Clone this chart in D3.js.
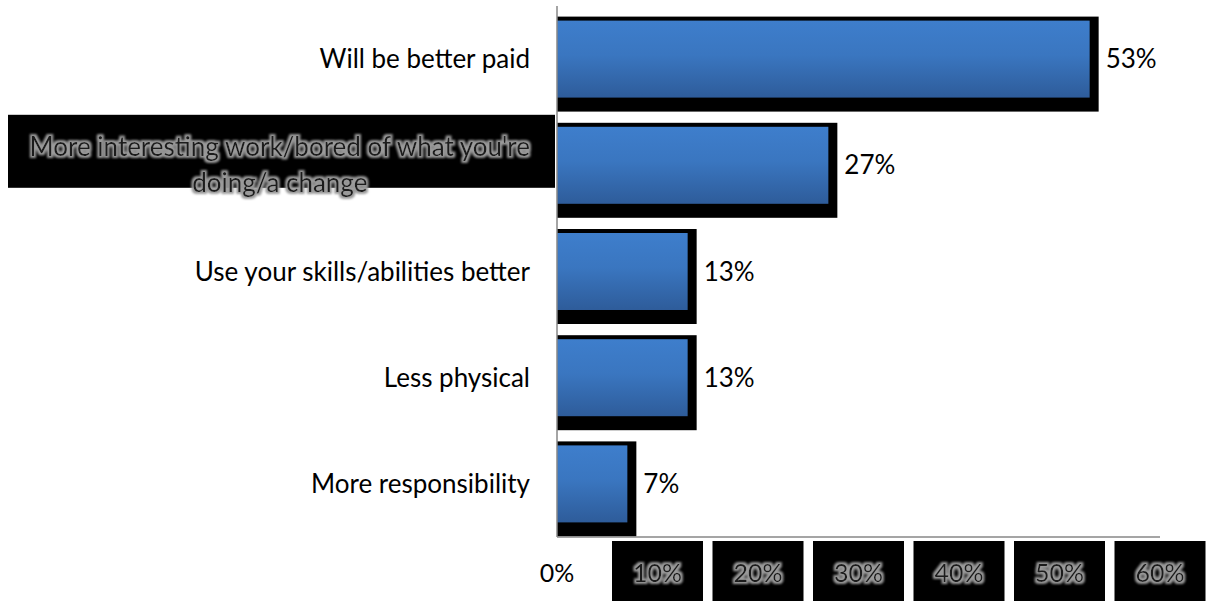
<!DOCTYPE html>
<html>
<head>
<meta charset="utf-8">
<script src="https://cdn.jsdelivr.net/npm/d3@7"></script>
<style>
  html, body { margin: 0; padding: 0; background: #ffffff; }
  svg { display: block; }
  text { font-family: Lato, "Open Sans", sans-serif; }
</style>
</head>
<body>
<svg id="chart" width="1206" height="601"></svg>
<script>
// Reasons for wanting a different job (share of respondents)
const categories = [
  "Will be better paid",
  "More interesting work/bored of what you're doing/a change",
  "Use your skills/abilities better",
  "Less physical",
  "More responsibility"
];
const values = [53, 27, 13, 13, 7];
const tickValues = [0, 10, 20, 30, 40, 50, 60];
const tickLabels = ["0%", "10%", "20%", "30%", "40%", "50%", "60%"];
// labels drawn on a black highlight box
const highlightedCategories = ["More interesting work/bored of what you're doing/a change"];

const svg = d3.select("#chart");
const W = 1206, H = 601;
const margin = { top: 6, left: 557, right: 46, bottom: 64 };
const fontSize = 26;

const x = d3.scaleLinear().domain([0, 60]).range([margin.left, W - margin.right]);
const y = d3.scaleBand().domain(categories)
  .range([margin.top, H - margin.bottom])
  .paddingInner(0.275).paddingOuter(0.1375);

const defs = svg.append("defs");
const grad = defs.append("linearGradient").attr("id", "barFill")
  .attr("x1", 0).attr("y1", 0).attr("x2", 0).attr("y2", 1);
grad.append("stop").attr("offset", "0%").attr("stop-color", "#3e7ecc");
grad.append("stop").attr("offset", "45%").attr("stop-color", "#3a76c0");
grad.append("stop").attr("offset", "100%").attr("stop-color", "#2e5c9a");

// gray halo around text
const glow = defs.append("filter").attr("id", "glow")
  .attr("x", "-10%").attr("y", "-30%").attr("width", "120%").attr("height", "160%");
glow.append("feMorphology").attr("in", "SourceAlpha").attr("operator", "dilate").attr("radius", 1.6).attr("result", "d");
glow.append("feGaussianBlur").attr("in", "d").attr("stdDeviation", 1.3).attr("result", "b");
glow.append("feFlood").attr("flood-color", "#9a9a9a").attr("result", "c");
glow.append("feComposite").attr("in", "c").attr("in2", "b").attr("operator", "in").attr("result", "g");
const merge = glow.append("feMerge");
merge.append("feMergeNode").attr("in", "g");
merge.append("feMergeNode").attr("in", "SourceGraphic");

const data = categories.map((c, i) => ({ c, v: values[i] }));

// bars: black offset backing, then gradient face
const bars = svg.append("g").selectAll("g").data(data).join("g");
bars.append("rect")
  .attr("x", x(0))
  .attr("y", d => y(d.c) - 4)
  .attr("width", d => x(d.v) - x(0) + 9)
  .attr("height", y.bandwidth() + 18)
  .attr("fill", "#000");
bars.append("rect")
  .attr("x", x(0))
  .attr("y", d => y(d.c))
  .attr("width", d => x(d.v) - x(0))
  .attr("height", y.bandwidth())
  .attr("fill", "url(#barFill)");

// value labels
svg.append("g").selectAll("text").data(data).join("text")
  .attr("x", d => x(d.v) + 16)
  .attr("y", d => y(d.c) + y.bandwidth() / 2)
  .attr("dy", "0.35em")
  .attr("font-size", fontSize)
  .attr("fill", "#000")
  .text(d => d.v + "%");

// axes lines
svg.append("line")
  .attr("x1", x(0)).attr("x2", x(0))
  .attr("y1", margin.top).attr("y2", H - margin.bottom)
  .attr("stroke", "#878787").attr("stroke-width", 1.5);
svg.append("line")
  .attr("x1", x(0)).attr("x2", x(60))
  .attr("y1", H - margin.bottom).attr("y2", H - margin.bottom)
  .attr("stroke", "#878787").attr("stroke-width", 1.5);

// category labels, wrapped to fit left of the axis
const labelRight = x(0) - 27;
const maxLabelWidth = 520;
const catG = svg.append("g");
data.forEach(d => {
  const cy = y(d.c) + y.bandwidth() / 2;
  const hl = highlightedCategories.includes(d.c);
  const t = catG.append("text")
    .attr("font-size", fontSize)
    .attr("fill", hl ? "#1c1c1c" : "#000")
    .attr("text-anchor", hl ? "middle" : "end");
  // word wrapping
  const words = d.c.split(" ");
  const lines = [];
  let cur = [];
  const probe = t.append("tspan");
  words.forEach(w => {
    cur.push(w);
    probe.text(cur.join(" "));
    if (probe.node().getComputedTextLength() > maxLabelWidth && cur.length > 1) {
      cur.pop();
      lines.push(cur.join(" "));
      cur = [w];
    }
  });
  lines.push(cur.join(" "));
  probe.remove();
  const lh = 36;
  let widest = 0;
  const tmp = t.append("tspan");
  lines.forEach(l => { tmp.text(l); widest = Math.max(widest, tmp.node().getComputedTextLength()); });
  tmp.remove();
  const ax = hl ? labelRight - widest / 2 : labelRight;
  lines.forEach((l, i) => {
    t.append("tspan")
      .attr("x", ax)
      .attr("y", cy + (i - (lines.length - 1) / 2) * lh)
      .attr("dy", "0.35em")
      .text(l);
  });
  if (hl) {
    catG.insert("rect", "text")
      .attr("x", 8)
      .attr("y", y(d.c) - 12)
      .attr("width", x(0) - 2 - 8)
      .attr("height", 73)
      .attr("fill", "#000");
    t.attr("filter", "url(#glow)");
  }
});

// x tick labels; all but the first sit on black boxes with halo text
const tickG = svg.append("g");
tickValues.forEach((v, i) => {
  const tx = x(v);
  if (i > 0) {
    tickG.append("rect")
      .attr("x", tx - 45.5)
      .attr("y", H - margin.bottom + 4)
      .attr("width", 91)
      .attr("height", 70)
      .attr("fill", "#000");
  }
  tickG.append("text")
    .attr("x", tx)
    .attr("y", 582)
    .attr("text-anchor", "middle")
    .attr("font-size", fontSize * 0.96)
    .attr("fill", i > 0 ? "#1c1c1c" : "#000")
    .attr("filter", i > 0 ? "url(#glow)" : null)
    .text(tickLabels[i]);
});
</script>
</body>
</html>
